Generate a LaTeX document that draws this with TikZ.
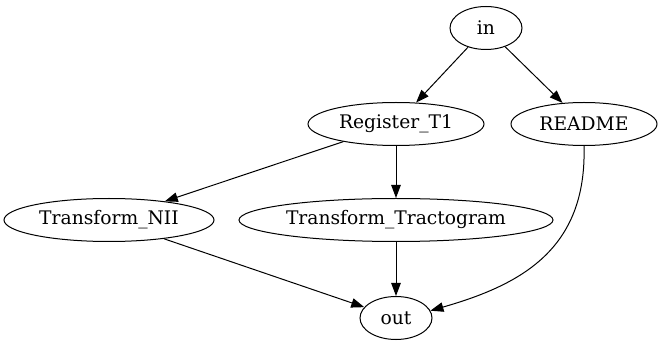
\documentclass[tikz,border=0pt]{standalone}
\usepackage{fontspec}
\setmainfont{DejaVu Serif}
\usetikzlibrary{arrows.meta,shapes.geometric}
\begin{document}
\begin{tikzpicture}[x=1pt,y=-1pt,
  every node/.style={font=\fontsize{18.7pt}{21pt}\selectfont},
  nd/.style={ellipse,draw,line width=1pt,inner sep=0pt,minimum height=43pt},
  arr/.style={-{Triangle[length=13pt,width=9.5pt]},line width=1pt}]
\useasboundingbox (0,0) rectangle (661,347);
\node[nd,minimum width=72pt]  (in)    at (486,28)  {in};
\node[nd,minimum width=176pt] (reg)   at (396,124) {Register\_T1};
\node[nd,minimum width=146pt] (readme) at (584,124) {README};
\node[nd,minimum width=210pt] (nii)   at (109,220) {Transform\_NII};
\node[nd,minimum width=314pt] (trk)   at (396,220) {Transform\_Tractogram};
\node[nd,minimum width=72pt]  (out)   at (396,318) {out};
\draw[arr] (in) -- (reg);
\draw[arr] (in) -- (readme);
\draw[arr] (reg) -- (nii);
\draw[arr] (reg) -- (trk);
\draw[arr] (nii) -- (out);
\draw[arr] (trk) -- (out);
\draw[arr] (readme.south) .. controls (587,250) and (520,285) .. (out.12);
\end{tikzpicture}
\end{document}
